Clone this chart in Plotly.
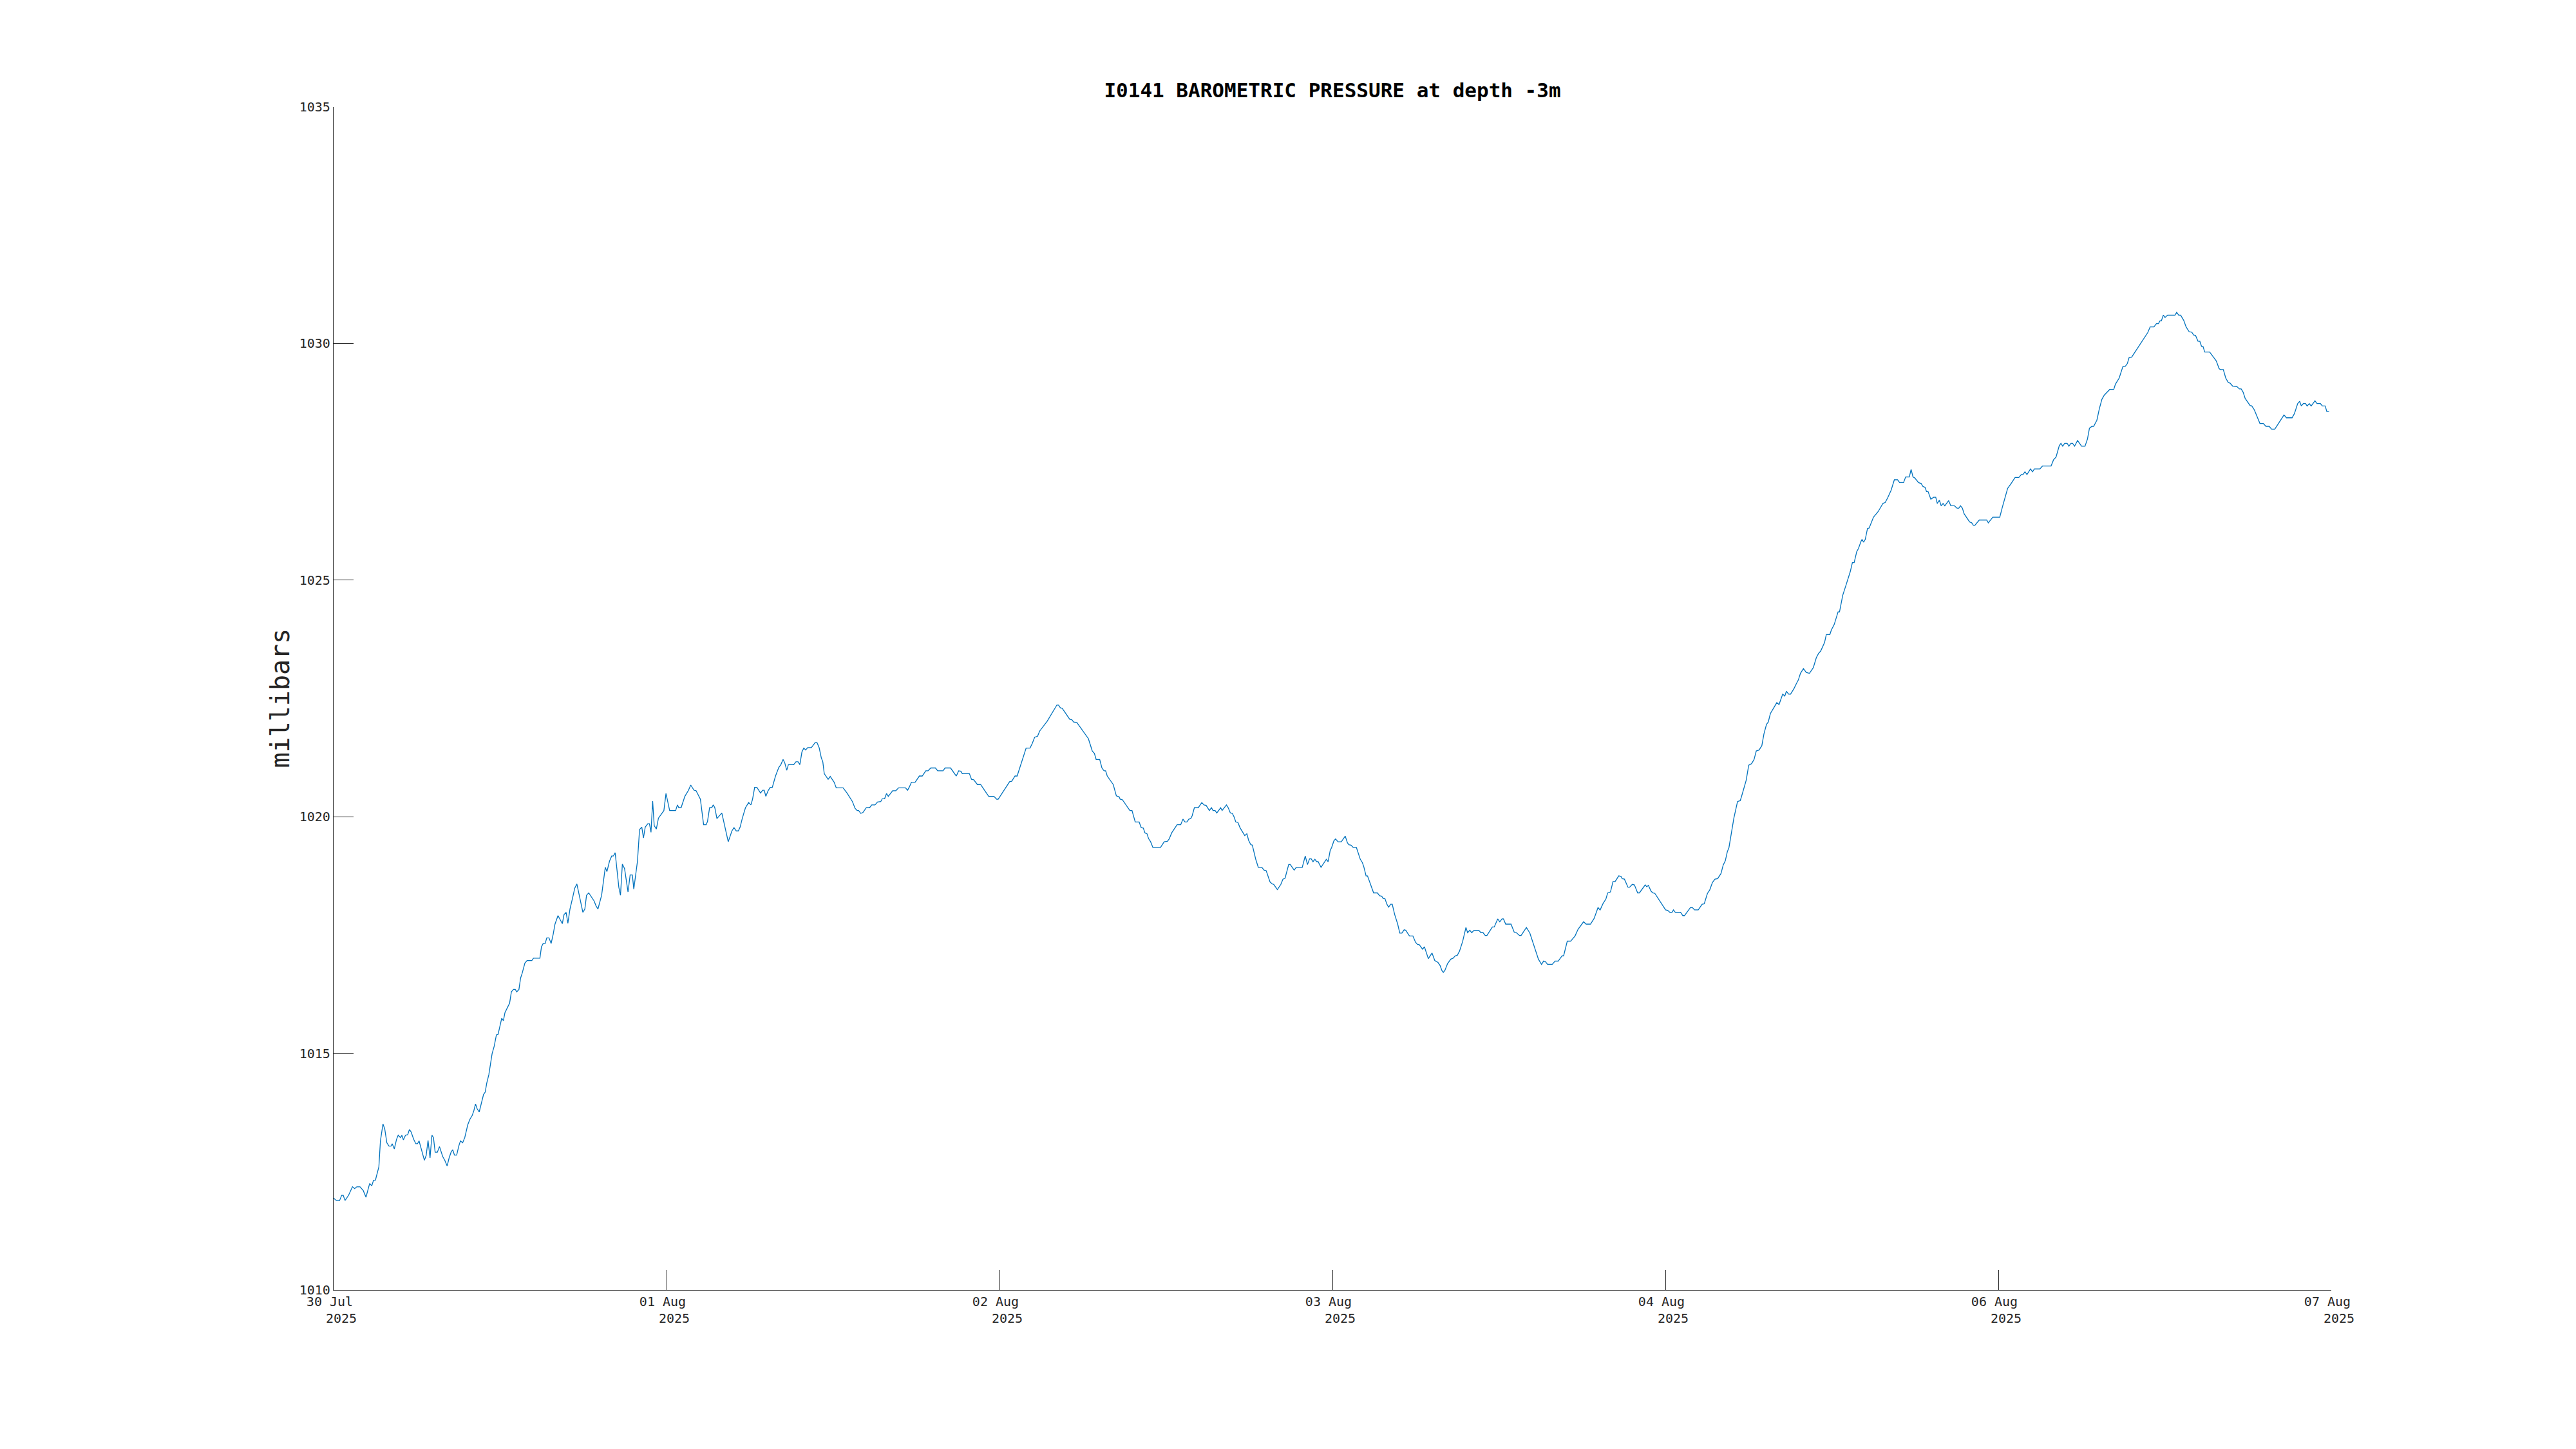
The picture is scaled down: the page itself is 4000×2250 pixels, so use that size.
import pandas as pd
import plotly.graph_objects as go

# ---- data ----
start_time = "2025-07-30 20:00"
tick_hours = [0, 30, 60, 90, 120, 150, 180]
tick_labels = ["30 Jul", "01 Aug", "02 Aug", "03 Aug", "04 Aug", "06 Aug", "07 Aug"]
tick_year = "2025"

hours = [
    0.00, 0.25, 0.54, 0.73, 0.87, 1.03, 1.35, 1.70, 1.90, 2.09, 2.38, 2.67, 2.92, 3.25, 3.44, 3.60, 3.77, 4.08, 4.22, 4.45,
    4.61, 4.80, 4.99, 5.18, 5.28, 5.47, 5.67, 5.82, 6.02, 6.15, 6.29, 6.48, 6.68, 6.83, 6.98, 7.22, 7.41, 7.56, 7.70, 7.89,
    8.18, 8.34, 8.51, 8.69, 8.86, 9.00, 9.15, 9.35, 9.54, 9.83, 10.02, 10.23, 10.41, 10.60, 10.74, 10.89, 11.09, 11.28, 11.43, 11.63,
    11.82, 12.09, 12.29, 12.48, 12.64, 12.79, 12.93, 13.12, 13.31, 13.51, 13.66, 13.80, 13.99, 14.15, 14.28, 14.47, 14.67, 14.82, 14.96, 15.15,
    15.30, 15.44, 15.69, 15.86, 16.02, 16.21, 16.37, 16.50, 16.70, 16.85, 16.99, 17.24, 17.43, 17.86, 18.01, 18.59, 18.73, 18.88, 19.06, 19.21,
    19.41, 19.60, 19.79, 19.95, 20.22, 20.37, 20.61, 20.76, 20.95, 21.11, 21.30, 21.54, 21.73, 21.92, 22.21, 22.46, 22.64, 22.79, 22.99, 23.47,
    23.66, 23.82, 24.15, 24.34, 24.48, 24.63, 24.86, 25.06, 25.21, 25.37, 25.50, 25.70, 25.85, 26.02, 26.22, 26.53, 26.72, 26.92, 27.05, 27.38,
    27.57, 27.77, 27.92, 28.08, 28.31, 28.46, 28.60, 28.75, 28.89, 29.08, 29.27, 29.66,
    29.76, 29.95, 30.28, 30.82, 30.98, 31.11, 31.31, 31.65, 31.98, 32.18, 32.47, 32.66, 33.05, 33.34, 33.57, 33.69, 33.88, 34.07, 34.21, 34.35,
    34.54, 34.98, 35.56, 35.89, 36.08, 36.28, 36.47, 36.63, 36.82, 37.11, 37.40, 37.60, 37.75, 37.94, 38.14, 38.47, 38.66, 38.80, 38.95, 39.15,
    39.34, 39.53, 39.82, 40.11, 40.30, 40.50, 40.65, 40.83, 40.98, 41.46, 41.66, 41.85, 42.01, 42.20, 42.37, 42.53, 42.72, 43.05, 43.40, 43.55,
    43.75, 43.94, 44.08, 44.21, 44.56, 44.75, 45.10, 45.29, 45.91, 46.26, 46.75, 46.98, 47.17, 47.31, 47.50, 47.70, 48.00, 48.29, 48.49, 48.78,
    49.01, 49.30, 49.44, 49.65, 49.82, 49.98, 50.37, 50.66, 50.91, 51.53, 51.72, 51.88, 52.07, 52.40, 52.78, 53.04, 53.36, 53.56, 53.81, 54.23,
    54.43, 54.91, 55.10, 55.59, 56.11, 56.32, 56.52, 56.65, 57.29, 57.48, 57.68, 58.01, 58.30, 59.03, 59.27,
    59.50, 59.75, 59.88, 60.91, 61.10, 61.40, 61.59, 62.40, 62.75, 62.94, 63.17, 63.43, 63.62, 64.30, 65.17, 65.32, 65.49, 65.65, 66.33, 66.52,
    66.68, 66.97, 68.01, 68.36, 68.55, 68.71, 69.03, 69.23, 69.42, 69.56, 69.71, 70.25, 70.53, 70.78, 70.87, 71.07, 71.75, 71.94, 72.23, 72.58,
    72.77, 72.96, 73.10, 73.29, 73.43, 73.62, 73.82, 74.51, 74.84, 75.13, 75.29, 75.52, 76.00, 76.33, 76.53, 76.72, 76.88, 77.07, 77.23, 77.36,
    77.56, 77.91, 78.23, 78.43, 78.62, 78.91, 79.10, 79.24, 79.43, 79.58, 79.93, 80.06, 80.45, 80.61, 80.80, 80.98, 81.13, 81.29, 81.48, 81.67,
    82.10, 82.29, 82.45, 82.64, 82.78, 83.10, 83.32, 83.64, 83.84, 84.03, 84.38, 84.57, 84.71, 85.04, 85.35, 85.54, 85.73, 86.06, 86.20, 86.55,
    86.74, 87.28, 87.55, 87.75, 87.94, 88.09, 88.25, 88.42, 88.58, 88.71, 88.87,
    88.97, 89.45, 89.61, 89.80, 89.93, 90.13, 90.28, 90.51, 90.80, 91.15, 91.35, 91.48, 91.67, 91.87, 92.16, 92.51, 92.70, 92.83, 93.03, 93.16,
    93.71, 94.05, 94.25, 94.44, 94.58, 94.73, 94.91, 95.06, 95.25, 95.39, 95.60, 95.88, 96.07, 96.26, 96.46, 96.61, 96.94, 97.25, 97.48, 97.67,
    97.81, 98.12, 98.29, 98.64, 98.97, 99.22, 99.36, 99.51, 99.71, 99.86, 99.99, 100.13, 100.38, 100.67, 100.87, 101.06, 101.25, 101.45, 101.74, 102.03,
    102.18, 102.38, 102.55, 102.76, 103.19, 103.38, 103.57, 103.77, 103.92, 104.41, 104.58, 104.89, 105.08, 105.28, 105.41, 105.61, 106.09, 106.38, 106.57, 106.86,
    107.00, 107.48, 107.79, 108.22, 108.56, 108.84, 109.03, 109.18, 109.38, 109.81, 110.06, 110.35, 110.69, 110.83, 111.16, 111.47, 111.86, 112.13, 112.63, 112.86,
    113.25, 113.58, 113.93, 114.12, 114.37, 114.64, 114.80, 115.05, 115.28, 115.47, 115.80, 116.00, 116.11, 116.31, 116.63, 116.77, 117.02, 117.21, 117.50, 117.66,
    118.18, 118.32, 118.47,
    118.70, 118.86, 119.05, 120.02, 120.21, 120.40, 120.60, 120.73, 120.89, 121.37, 121.57, 121.72, 122.25, 122.44, 122.63, 122.96, 123.31, 123.50, 123.79, 123.99,
    124.24, 124.47, 124.71, 125.01, 125.21, 125.40, 125.58, 125.73, 125.93, 126.17, 126.50, 126.75, 126.95, 127.28, 127.51, 127.76, 127.99, 128.19, 128.44, 128.69,
    128.88, 129.11, 129.27, 129.46, 130.04, 130.24, 130.57, 130.76, 130.90, 131.11, 131.28, 131.59, 131.82, 131.98, 132.17, 132.44, 132.69, 132.98, 133.33, 133.60,
    133.80, 133.99, 134.34, 134.50, 134.82, 134.96, 135.21, 135.40, 135.56, 135.69, 135.98, 136.27, 136.51, 136.66, 136.85, 137.01, 137.24, 137.40, 137.63, 137.72,
    137.86, 138.01, 138.21, 138.36, 138.75, 139.18, 139.60, 139.81, 140.05, 140.34, 140.63, 140.92, 141.11, 141.46, 141.65, 141.98, 142.14, 142.31, 142.47, 142.81,
    143.05, 143.20, 143.40, 143.53, 143.67, 143.92, 144.17, 144.36, 144.50, 144.69, 144.85, 145.02, 145.18, 145.52, 145.72, 146.05, 146.28, 146.44, 146.59, 146.76,
    146.92, 147.41, 147.60, 147.75, 147.89, 148.08,
    148.28, 148.95, 149.10, 149.50, 150.13, 150.35, 150.62, 150.84, 151.18, 151.51, 151.85, 152.07, 152.22, 152.40, 152.58, 152.90, 153.08, 153.25, 153.75, 153.97,
    154.75, 154.97, 155.20, 155.49, 155.64, 155.80, 155.98, 156.20, 156.36, 156.54, 156.69, 156.87, 157.14, 157.50, 157.81, 158.03, 158.21, 158.44, 158.59, 158.88,
    159.10, 159.33, 159.55, 159.77, 160.04, 160.40, 160.55, 160.89, 161.22, 161.45, 161.63, 161.78, 162.01, 163.46, 163.68, 164.02, 164.24, 164.42, 164.57, 164.69,
    164.87, 165.02, 165.25, 165.92, 166.07, 166.25, 166.43, 166.70, 166.92, 167.19, 167.43, 167.59, 167.77, 167.99, 168.15, 168.31, 168.44, 168.60, 169.04, 169.42,
    169.64, 169.89, 170.00, 170.27, 170.49, 170.71, 170.89, 171.11, 171.50, 171.72, 171.88, 172.06, 172.24, 172.68, 172.84, 173.06, 173.28, 173.57, 173.88, 174.11,
    174.40, 174.62, 174.91, 175.74, 175.96, 176.47, 176.68, 176.97, 177.15, 177.30, 177.48, 177.68, 177.82, 178.02, 178.19, 178.53, 178.71, 179.02, 179.20, 179.45,
    179.60, 179.80,
]

pressure = [
    1011.94, 1011.89, 1011.89, 1012.00, 1012.00, 1011.89, 1012.00, 1012.18, 1012.14, 1012.18, 1012.18, 1012.10, 1011.96, 1012.25, 1012.20, 1012.32, 1012.32, 1012.60, 1013.15, 1013.51,
    1013.40, 1013.11, 1013.04, 1013.04, 1013.09, 1012.98, 1013.18, 1013.27, 1013.22, 1013.27, 1013.17, 1013.27, 1013.28, 1013.39, 1013.34, 1013.18, 1013.09, 1013.09, 1013.15, 1013.00,
    1012.74, 1012.84, 1013.16, 1012.79, 1013.27, 1013.22, 1012.91, 1012.91, 1013.03, 1012.82, 1012.74, 1012.62, 1012.79, 1012.92, 1012.96, 1012.85, 1012.85, 1013.04, 1013.15, 1013.11,
    1013.22, 1013.49, 1013.61, 1013.68, 1013.79, 1013.93, 1013.83, 1013.76, 1013.96, 1014.13, 1014.18, 1014.37, 1014.55, 1014.82, 1014.99, 1015.15, 1015.39, 1015.40, 1015.54, 1015.74,
    1015.69, 1015.86, 1015.98, 1016.06, 1016.30, 1016.35, 1016.35, 1016.30, 1016.35, 1016.59, 1016.69, 1016.91, 1016.96, 1016.96, 1017.01, 1017.01, 1017.25, 1017.32, 1017.32, 1017.44,
    1017.44, 1017.32, 1017.52, 1017.73, 1017.91, 1017.84, 1017.74, 1017.93, 1017.98, 1017.75, 1018.05, 1018.29, 1018.49, 1018.58, 1018.24, 1017.98, 1018.05, 1018.34, 1018.39, 1018.22,
    1018.11, 1018.05, 1018.34, 1018.64, 1018.93, 1018.84, 1019.06, 1019.17, 1019.17, 1019.24, 1018.95, 1018.51, 1018.34, 1019.00, 1018.90, 1018.41, 1018.77, 1018.77, 1018.47, 1019.06,
    1019.73, 1019.78, 1019.55, 1019.78, 1019.85, 1019.85, 1019.67, 1020.33, 1019.81, 1019.74, 1019.97, 1020.10,
    1020.13, 1020.49, 1020.13, 1020.13, 1020.25, 1020.19, 1020.19, 1020.43, 1020.56, 1020.67, 1020.56, 1020.55, 1020.37, 1019.83, 1019.83, 1019.90, 1020.19, 1020.19, 1020.25, 1020.19,
    1019.96, 1020.08, 1019.47, 1019.70, 1019.77, 1019.70, 1019.70, 1019.78, 1019.96, 1020.19, 1020.30, 1020.25, 1020.37, 1020.62, 1020.62, 1020.50, 1020.56, 1020.56, 1020.43, 1020.55,
    1020.62, 1020.62, 1020.86, 1021.04, 1021.10, 1021.21, 1021.14, 1020.98, 1021.10, 1021.10, 1021.16, 1021.16, 1021.10, 1021.37, 1021.45, 1021.41, 1021.46, 1021.46, 1021.57, 1021.57,
    1021.46, 1021.25, 1021.16, 1020.91, 1020.79, 1020.85, 1020.73, 1020.61, 1020.61, 1020.50, 1020.32, 1020.18, 1020.13, 1020.13, 1020.07, 1020.09, 1020.19, 1020.19, 1020.25, 1020.25,
    1020.31, 1020.32, 1020.38, 1020.38, 1020.49, 1020.43, 1020.55, 1020.55, 1020.61, 1020.61, 1020.56, 1020.63, 1020.73, 1020.73, 1020.86, 1020.86, 1020.97, 1020.97, 1021.03, 1021.03,
    1020.97, 1020.97, 1021.03, 1021.03, 1020.86, 1020.97, 1020.96, 1020.91, 1020.91, 1020.79, 1020.78, 1020.68, 1020.68, 1020.43, 1020.43,
    1020.43, 1020.37, 1020.37, 1020.74, 1020.75, 1020.86, 1020.86, 1021.45, 1021.45, 1021.54, 1021.68, 1021.70, 1021.81, 1022.02, 1022.36, 1022.36, 1022.30, 1022.29, 1022.06, 1022.05,
    1022.00, 1021.99, 1021.65, 1021.39, 1021.34, 1021.21, 1021.21, 1021.03, 1020.97, 1020.97, 1020.86, 1020.68, 1020.44, 1020.42, 1020.37, 1020.36, 1020.13, 1020.13, 1019.89, 1019.89,
    1019.77, 1019.76, 1019.66, 1019.64, 1019.54, 1019.47, 1019.35, 1019.35, 1019.47, 1019.48, 1019.53, 1019.66, 1019.83, 1019.83, 1019.95, 1019.89, 1019.89, 1019.95, 1019.96, 1020.02,
    1020.19, 1020.19, 1020.30, 1020.25, 1020.24, 1020.13, 1020.19, 1020.13, 1020.13, 1020.08, 1020.19, 1020.13, 1020.25, 1020.19, 1020.08, 1020.07, 1020.00, 1019.89, 1019.88, 1019.77,
    1019.60, 1019.64, 1019.50, 1019.41, 1019.40, 1019.09, 1018.93, 1018.93, 1018.87, 1018.86, 1018.62, 1018.58, 1018.57, 1018.46, 1018.57, 1018.68, 1018.70, 1018.99, 1018.99, 1018.87,
    1018.93, 1018.93, 1019.17, 1018.99, 1019.11, 1019.11, 1019.05, 1019.10, 1019.05, 1019.05, 1018.98,
    1018.93, 1019.10, 1019.05, 1019.29, 1019.35, 1019.49, 1019.53, 1019.47, 1019.47, 1019.59, 1019.45, 1019.41, 1019.40, 1019.35, 1019.35, 1019.10, 1019.03, 1018.94, 1018.75, 1018.75,
    1018.39, 1018.39, 1018.33, 1018.32, 1018.27, 1018.27, 1018.15, 1018.09, 1018.15, 1018.15, 1017.94, 1017.73, 1017.54, 1017.54, 1017.61, 1017.60, 1017.48, 1017.48, 1017.35, 1017.30,
    1017.30, 1017.20, 1017.25, 1017.00, 1017.12, 1016.96, 1016.94, 1016.92, 1016.85, 1016.75, 1016.71, 1016.75, 1016.90, 1016.99, 1017.01, 1017.06, 1017.07, 1017.16, 1017.37, 1017.66,
    1017.55, 1017.60, 1017.55, 1017.60, 1017.60, 1017.55, 1017.55, 1017.49, 1017.49, 1017.67, 1017.67, 1017.84, 1017.78, 1017.84, 1017.84, 1017.73, 1017.73, 1017.56, 1017.55, 1017.49,
    1017.49, 1017.66, 1017.54, 1017.23, 1016.99, 1016.88, 1016.95, 1016.94, 1016.88, 1016.88, 1016.95, 1016.95, 1017.06, 1017.06, 1017.37, 1017.37, 1017.48, 1017.62, 1017.78, 1017.73,
    1017.73, 1017.85, 1018.08, 1018.03, 1018.16, 1018.26, 1018.39, 1018.41, 1018.63, 1018.63, 1018.75, 1018.74, 1018.69, 1018.68, 1018.51, 1018.51, 1018.57, 1018.56, 1018.39, 1018.39,
    1018.56, 1018.52, 1018.55,
    1018.43, 1018.39, 1018.38, 1018.03, 1018.02, 1017.98, 1017.98, 1018.03, 1017.98, 1017.98, 1017.91, 1017.91, 1018.08, 1018.08, 1018.03, 1018.03, 1018.15, 1018.16, 1018.38, 1018.45,
    1018.61, 1018.68, 1018.69, 1018.80, 1018.98, 1019.07, 1019.26, 1019.35, 1019.63, 1019.97, 1020.32, 1020.34, 1020.50, 1020.77, 1021.09, 1021.12, 1021.21, 1021.39, 1021.41, 1021.50,
    1021.75, 1021.95, 1022.00, 1022.18, 1022.41, 1022.37, 1022.59, 1022.55, 1022.65, 1022.59, 1022.59, 1022.71, 1022.82, 1022.89, 1023.03, 1023.13, 1023.05, 1023.03, 1023.15, 1023.36,
    1023.45, 1023.50, 1023.68, 1023.85, 1023.85, 1023.95, 1024.06, 1024.19, 1024.33, 1024.33, 1024.68, 1024.89, 1025.05, 1025.18, 1025.37, 1025.37, 1025.60, 1025.67, 1025.82, 1025.86,
    1025.80, 1025.86, 1026.09, 1026.10, 1026.33, 1026.45, 1026.62, 1026.64, 1026.75, 1026.90, 1027.12, 1027.12, 1027.06, 1027.06, 1027.18, 1027.18, 1027.34, 1027.18, 1027.16, 1027.06,
    1027.04, 1026.98, 1026.96, 1026.87, 1026.87, 1026.71, 1026.75, 1026.75, 1026.62, 1026.69, 1026.57, 1026.62, 1026.57, 1026.68, 1026.57, 1026.57, 1026.52, 1026.52, 1026.57, 1026.52,
    1026.40, 1026.23, 1026.21, 1026.16, 1026.16, 1026.21,
    1026.27, 1026.27, 1026.21, 1026.33, 1026.33, 1026.53, 1026.74, 1026.94, 1027.05, 1027.17, 1027.17, 1027.23, 1027.23, 1027.29, 1027.23, 1027.35, 1027.29, 1027.35, 1027.35, 1027.41,
    1027.41, 1027.54, 1027.60, 1027.84, 1027.89, 1027.83, 1027.89, 1027.89, 1027.83, 1027.89, 1027.89, 1027.83, 1027.95, 1027.83, 1027.83, 1027.98, 1028.21, 1028.25, 1028.25, 1028.38,
    1028.62, 1028.82, 1028.91, 1028.97, 1029.03, 1029.03, 1029.14, 1029.27, 1029.51, 1029.52, 1029.58, 1029.70, 1029.71, 1030.23, 1030.35, 1030.35, 1030.42, 1030.42, 1030.48, 1030.48,
    1030.60, 1030.55, 1030.60, 1030.60, 1030.66, 1030.60, 1030.60, 1030.49, 1030.35, 1030.25, 1030.24, 1030.18, 1030.17, 1030.05, 1030.05, 1029.94, 1029.94, 1029.82, 1029.82, 1029.70,
    1029.63, 1029.47, 1029.45, 1029.45, 1029.27, 1029.18, 1029.16, 1029.10, 1029.09, 1029.04, 1029.04, 1028.97, 1028.84, 1028.69, 1028.68, 1028.60, 1028.48, 1028.31, 1028.31, 1028.25,
    1028.25, 1028.19, 1028.19, 1028.49, 1028.43, 1028.43, 1028.52, 1028.73, 1028.78, 1028.68, 1028.73, 1028.73, 1028.68, 1028.73, 1028.68, 1028.79, 1028.73, 1028.73, 1028.68, 1028.68,
    1028.56, 1028.56,
]

# ---- build ----
t0 = pd.Timestamp(start_time)
times = [t0 + pd.Timedelta(hours=h) for h in hours]
tick_vals = [t0 + pd.Timedelta(hours=h) for h in tick_hours]
tick_text = [f"{lab}\u00a0<br>\u00a0\u00a0{tick_year}" for lab in tick_labels]

AX = "#262626"
FONT = "DejaVu Sans Mono"

fig = go.Figure()
fig.add_trace(go.Scatter(
    x=times, y=pressure, mode="lines",
    line=dict(color="#0072BD", width=1.3),
    showlegend=False, hoverinfo="skip",
))

fig.update_layout(
    width=4000, height=2250, autosize=False,
    paper_bgcolor="white", plot_bgcolor="white",
    margin=dict(l=510, r=388, t=158, b=255, pad=0),
    font=dict(family=FONT, color=AX, size=20),
    title=dict(
        text="<b>I0141 BAROMETRIC PRESSURE at depth -3m</b>",
        font=dict(family=FONT, size=31, color="black"),
        x=0.5, xanchor="center", xref="paper",
        y=1 - 132 / 2250, yanchor="middle", yref="container",
    ),
)

fig.update_xaxes(
    type="date",
    range=[tick_vals[0], tick_vals[-1]],
    tickmode="array", tickvals=tick_vals, ticktext=tick_text,
    ticks="inside", ticklen=31, tickwidth=1.1, tickcolor=AX,
    showline=True, linecolor=AX, linewidth=1.4,
    showgrid=False, zeroline=False, mirror=False,
    tickfont=dict(family=FONT, size=20, color=AX),
)
fig.update_yaxes(
    range=[1010, 1035],
    tickmode="array", tickvals=[1010, 1015, 1020, 1025, 1030, 1035],
    ticks="inside", ticklen=31, tickwidth=1.1, tickcolor=AX,
    showline=True, linecolor=AX, linewidth=1.4,
    showgrid=False, zeroline=False, mirror=False,
    tickfont=dict(family=FONT, size=20, color=AX),
)

fig.add_annotation(
    text="millibars", textangle=-90,
    xref="paper", yref="paper", x=(426 - 510) / 3102, y=0.5,
    xanchor="center", yanchor="middle", showarrow=False,
    font=dict(family=FONT, size=40, color=AX),
)

fig.write_html("out.html")
